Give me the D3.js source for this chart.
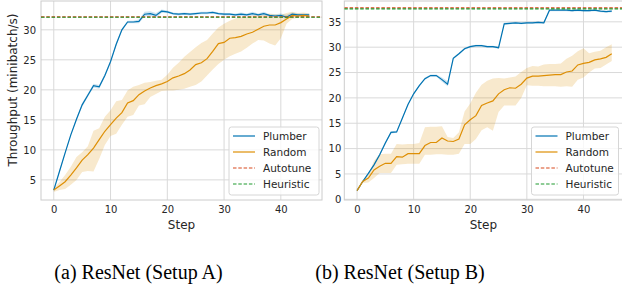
<!DOCTYPE html>
<html>
<head>
<meta charset="utf-8" />
<title>ResNet throughput</title>
<script src="https://d3js.org/d3.v7.min.js"></script>
<style>
  body { margin: 0; background: #fff; }
  svg { display: block; }
  .tick text, .leg text { font-family: "DejaVu Sans", sans-serif; fill: #262626; }
  .cap { font-family: "Liberation Serif", "Times New Roman", serif; font-size: 20px; fill: #000; }
</style>
</head>
<body>
<div id="chart"></div>
<script>
// ---- data ----
var steps = [0,1,2,3,4,5,6,7,8,9,10,11,12,13,14,15,16,17,18,19,20,21,22,23,24,25,26,27,28,29,30,31,32,33,34,35,36,37,38,39,40,41,42,43,44,45];

// Setup A
var plumberA = [3.3,6.4,9.5,12.5,15.1,17.5,19.1,20.7,20.5,22.4,24.7,27.6,30.0,31.3,31.3,31.4,32.6,32.7,32.4,33.1,33.0,32.7,32.6,32.7,32.6,32.7,32.8,32.8,32.9,32.7,32.6,32.6,32.5,32.6,32.5,32.7,32.5,32.7,32.4,32.3,32.4,32.1,32.6,32.5,32.5,32.5];
var plumberALo = [3.1,6.2,9.3,12.3,14.9,17.2,18.8,20.4,20.2,22.1,24.4,27.3,29.8,31.1,31.1,31.1,32.2,32.3,32.0,32.8,32.8,32.5,32.4,32.5,32.4,32.5,32.6,32.6,32.7,32.5,32.4,32.4,32.3,32.3,32.3,32.4,32.3,32.4,32.2,32.0,32.1,31.8,32.3,32.3,32.3,32.3];
var plumberAHi = [3.5,6.6,9.7,12.7,15.3,17.8,19.4,21.0,20.8,22.7,25.0,27.9,30.2,31.5,31.5,31.7,33.0,33.1,32.8,33.4,33.2,32.9,32.8,32.9,32.8,32.9,33.0,33.0,33.1,32.9,32.8,32.8,32.7,32.9,32.7,33.0,32.7,33.0,32.6,32.6,32.7,32.5,32.9,32.7,32.7,32.7];
var randomA = [3.3,4.0,4.7,5.8,7.0,8.3,9.2,10.3,11.7,13.1,14.2,15.3,16.2,17.8,18.2,19.2,19.8,20.3,20.7,21.0,21.4,22.0,22.3,22.7,23.3,24.2,24.5,25.2,26.4,27.7,27.9,28.6,28.7,28.9,29.3,29.6,30.1,30.6,30.8,30.8,31.2,31.8,32.4,32.3,32.4,32.3];
var randomALo = [3.0,3.3,3.5,4.2,5.0,6.3,6.5,6.4,8.5,10.8,12.3,12.7,14.2,15.5,15.8,17.4,17.6,18.8,19.3,19.8,19.9,19.9,20.0,20.2,20.5,20.8,21.4,22.4,23.4,24.3,25.0,25.6,26.0,26.4,27.0,27.7,28.3,28.2,27.7,27.4,28.6,31.0,31.8,32.0,31.9,32.0];
var randomAHi = [3.6,4.6,5.8,7.2,8.8,9.6,10.6,13.2,13.6,15.5,16.6,18.1,18.3,19.9,20.5,20.8,21.2,21.3,21.5,21.7,22.5,23.7,24.5,25.5,26.3,27.1,27.8,28.3,29.4,30.4,31.0,31.5,31.9,32.1,32.2,32.4,32.5,32.5,32.7,32.6,32.5,32.8,33.0,32.8,32.9,32.7];
var autotuneA = 32.15;
var heuristicA = 32.1;

// Setup B
var plumberB = [1.7,3.5,5.1,6.8,8.8,11.1,13.2,13.3,16.0,18.7,20.8,22.4,23.8,24.4,24.4,23.6,22.7,27.8,28.7,29.7,30.1,30.3,30.3,30.1,30.1,29.9,34.6,34.7,34.8,34.7,34.8,34.8,34.9,34.8,37.3,37.3,37.3,37.3,37.2,37.3,37.2,37.2,37.3,37.1,37.0,37.1];
var plumberBLo = [1.6,3.4,5.0,6.6,8.5,10.8,13.0,13.1,15.8,18.5,20.6,22.2,23.6,24.2,24.2,23.2,22.3,27.6,28.5,29.5,29.9,30.1,30.1,29.9,29.9,29.7,34.4,34.5,34.6,34.5,34.6,34.6,34.7,34.6,37.1,37.1,37.1,37.1,37.0,37.1,37.0,37.0,37.1,36.9,36.8,36.9];
var plumberBHi = [1.8,3.6,5.2,7.0,9.1,11.4,13.4,13.5,16.2,18.9,21.0,22.6,24.0,24.6,24.6,24.0,23.3,28.0,28.9,29.9,30.3,30.5,30.5,30.3,30.3,30.1,34.8,34.9,35.0,34.9,35.0,35.0,35.1,35.0,37.5,37.5,37.5,37.5,37.4,37.5,37.4,37.4,37.5,37.3,37.2,37.3];
var randomB = [1.7,3.5,4.2,5.8,6.5,7.1,7.1,8.4,8.3,9.0,9.0,9.0,10.6,11.2,11.2,12.1,11.5,11.4,11.9,14.7,15.7,16.5,18.5,19.0,19.4,20.8,21.6,22.0,21.9,22.7,23.9,24.3,24.3,24.4,24.5,24.6,24.6,25.1,25.3,26.5,26.8,27.0,27.5,27.7,28.0,28.7];
var randomBLo = [1.5,3.2,3.3,4.2,5.2,5.2,5.2,6.8,6.9,7.0,7.0,7.0,8.8,8.8,8.9,8.9,8.8,8.8,9.0,10.9,10.9,11.9,13.6,14.2,13.5,17.2,18.5,18.5,18.5,20.0,22.5,22.4,22.4,22.3,22.3,22.3,22.2,22.3,22.2,23.6,24.0,25.0,25.8,25.9,26.6,27.3];
var randomBHi = [1.9,3.8,4.9,7.6,8.9,9.0,9.0,10.9,10.8,10.9,10.9,11.1,14.2,14.3,14.3,14.4,12.3,12.1,13.2,17.3,18.9,21.0,22.6,23.4,23.8,23.9,23.8,24.0,24.2,25.1,25.9,26.3,26.2,26.6,26.7,26.7,26.8,27.7,28.3,29.2,29.8,28.8,29.1,29.3,30.0,30.6];
var autotuneB = 37.75;
var heuristicB = 37.55;

var xTicks = [0, 10, 20, 30, 40];
var yTicksA = [5, 10, 15, 20, 25, 30];
var yTicksB = [0, 5, 10, 15, 20, 25, 30, 35];
var legendNames = ["Plumber", "Random", "Autotune", "Heuristic"];
var captions = ["(a) ResNet (Setup A)", "(b) ResNet (Setup B)"];

// ---- drawing ----
var colors = { Plumber: "#0173b2", Random: "#de8f05", Autotune: "#d8481c", Heuristic: "#1f9a2e" };

var svg = d3.select("#chart").append("svg")
  .attr("width", 622).attr("height", 287);

function panel(opt) {
  var x = d3.scaleLinear().domain([-2.25, 47.25]).range([opt.left, opt.right]);
  var y = d3.scaleLinear().domain(opt.yDomain).range([200, 1]);
  var g = svg.append("g");

  // grid
  g.append("g").selectAll("line").data(xTicks).join("line")
    .attr("x1", d => x(d)).attr("x2", d => x(d)).attr("y1", 1).attr("y2", 200)
    .attr("stroke", "#d9d9d9").attr("stroke-width", 1);
  g.append("g").selectAll("line").data(opt.yTicks).join("line")
    .attr("x1", opt.left).attr("x2", opt.right).attr("y1", d => y(d)).attr("y2", d => y(d))
    .attr("stroke", "#d9d9d9").attr("stroke-width", 1);

  // frame
  g.append("rect").attr("x", opt.left).attr("y", 1)
    .attr("width", opt.right - opt.left).attr("height", 199)
    .attr("fill", "none").attr("stroke", "#cccccc").attr("stroke-width", 1);

  // axes
  g.append("g").attr("transform", "translate(0,204)")
    .call(d3.axisBottom(x).tickValues(xTicks).tickSize(0).tickPadding(2))
    .call(a => a.select(".domain").remove())
    .selectAll("text").attr("font-size", 10);
  g.append("g").attr("transform", "translate(" + opt.left + ",0)")
    .call(d3.axisLeft(y).tickValues(opt.yTicks).tickSize(0).tickPadding(opt.ypad))
    .call(a => a.select(".domain").remove())
    .selectAll("text").attr("font-size", 10);

  g.append("text").attr("x", (opt.left + opt.right) / 2 - (opt.right > 622 ? 1 : 0))
    .attr("y", 228.5).attr("text-anchor", "middle")
    .attr("font-family", "DejaVu Sans, sans-serif").attr("font-size", 12).attr("fill", "#262626")
    .text("Step");

  var clip = "clip" + opt.id;
  svg.append("clipPath").attr("id", clip).append("rect")
    .attr("x", opt.left).attr("y", 1).attr("width", opt.right - opt.left).attr("height", 199);
  var plot = g.append("g").attr("clip-path", "url(#" + clip + ")");

  var area = d3.area().x((d, i) => x(steps[i])).y0(d => y(d[0])).y1(d => y(d[1]));
  var line = d3.line().x((d, i) => x(steps[i])).y(d => y(d));

  [["Plumber", opt.p, opt.pLo, opt.pHi], ["Random", opt.r, opt.rLo, opt.rHi]].forEach(function (s) {
    plot.append("path").datum(s[2].map((v, i) => [v, s[3][i]]))
      .attr("d", area).attr("fill", colors[s[0]]).attr("fill-opacity", 0.2);
  });
  [["Plumber", opt.p], ["Random", opt.r]].forEach(function (s) {
    plot.append("path").datum(s[1]).attr("d", line)
      .attr("fill", "none").attr("stroke", colors[s[0]]).attr("stroke-width", 1.2);
  });
  [["Autotune", opt.auto], ["Heuristic", opt.heur]].forEach(function (s) {
    plot.append("line").attr("x1", opt.left).attr("x2", opt.right)
      .attr("y1", y(s[1])).attr("y2", y(s[1]))
      .attr("stroke", colors[s[0]]).attr("stroke-width", 1.1).attr("stroke-dasharray", "3.5,1.8");
  });

  // legend
  var lg = g.append("g").attr("class", "leg");
  lg.append("rect").attr("x", opt.legX).attr("y", 127).attr("width", opt.legW).attr("height", 68)
    .attr("rx", 2.5).attr("fill", "#fff").attr("fill-opacity", 0.8)
    .attr("stroke", "#d6d6d6").attr("stroke-width", 1);
  legendNames.forEach(function (n, i) {
    var yy = 136 + i * 16;
    lg.append("line").attr("x1", opt.legX + 4).attr("x2", opt.legX + 26)
      .attr("y1", yy).attr("y2", yy).attr("stroke", colors[n])
      .attr("stroke-width", i < 2 ? 1.2 : 1.1).attr("stroke-dasharray", i < 2 ? null : "3.5,1.8");
    lg.append("text").attr("x", opt.legX + 34).attr("y", yy + 3.8)
      .attr("font-size", 10.5).text(n);
  });

  svg.append("text").attr("class", "cap").attr("x", opt.capX).attr("y", 279)
    .attr("text-anchor", "middle").text(opt.caption);
}

panel({ id: "a", left: 41, right: 322, yDomain: [1.65, 34.8], yTicks: yTicksA, ypad: 5,
  p: plumberA, pLo: plumberALo, pHi: plumberAHi, r: randomA, rLo: randomALo, rHi: randomAHi,
  auto: autotuneA, heur: heuristicA, legX: 229, legW: 90, capX: 138.5, caption: captions[0] });
panel({ id: "b", left: 344.3, right: 624.5, yDomain: [-0.14, 39.11], yTicks: yTicksB, ypad: 3,
  p: plumberB, pLo: plumberBLo, pHi: plumberBHi, r: randomB, rLo: randomBLo, rHi: randomBHi,
  auto: autotuneB, heur: heuristicB, legX: 531.5, legW: 87, capX: 400, caption: captions[1] });

// y axis label (left panel only)
svg.append("text")
  .attr("transform", "translate(16.5,90) rotate(-90)")
  .attr("text-anchor", "middle")
  .attr("font-family", "DejaVu Sans, sans-serif").attr("font-size", 12).attr("fill", "#262626")
  .text("Throughput (minibatch/s)");
</script>
</body>
</html>
